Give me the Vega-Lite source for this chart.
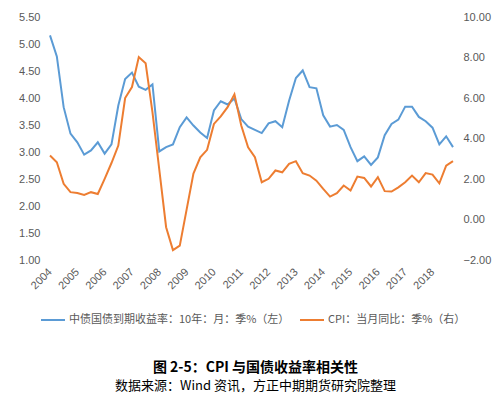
{
  "$schema": "https://vega.github.io/schema/vega-lite/v6.json",
  "autosize": "none",
  "width": 403,
  "height": 243,
  "padding": {"left": 50, "top": 17, "right": 47, "bottom": 137},
  "background": "white",
  "config": {
    "view": {"stroke": null},
    "axis": {"grid": false, "domain": false, "ticks": false, "labelFont": "Liberation Sans", "labelFontSize": 11, "labelColor": "#595959", "title": null},
    "legend": {"labelFont": "Noto Sans CJK SC", "labelFontSize": 11, "labelColor": "#595959", "labelLimit": 0}
  },
  "title": {
    "text": "图 2-5：CPI 与国债收益率相关性",
    "subtitle": "数据来源：Wind 资讯，方正中期期货研究院整理",
    "orient": "bottom",
    "anchor": "middle",
    "frame": "group",
    "offset": 36,
    "dx": 4,
    "font": "Noto Sans CJK SC",
    "fontSize": 14,
    "fontWeight": "bold",
    "color": "#000000",
    "subtitleFont": "Noto Sans CJK SC",
    "subtitleFontSize": 13,
    "subtitleColor": "#000000",
    "subtitlePadding": 5
  },
  "data": {"values": [
    {"t": 2004.00, "bond": 5.16, "cpi": 3.16},
    {"t": 2004.25, "bond": 4.77, "cpi": 2.83},
    {"t": 2004.50, "bond": 3.83, "cpi": 1.76},
    {"t": 2004.75, "bond": 3.34, "cpi": 1.35},
    {"t": 2005.00, "bond": 3.18, "cpi": 1.31},
    {"t": 2005.25, "bond": 2.95, "cpi": 1.21},
    {"t": 2005.50, "bond": 3.03, "cpi": 1.35},
    {"t": 2005.75, "bond": 3.18, "cpi": 1.26},
    {"t": 2006.00, "bond": 2.97, "cpi": 2.01},
    {"t": 2006.25, "bond": 3.14, "cpi": 2.79},
    {"t": 2006.50, "bond": 3.86, "cpi": 3.65},
    {"t": 2006.75, "bond": 4.35, "cpi": 6.0},
    {"t": 2007.00, "bond": 4.47, "cpi": 6.54},
    {"t": 2007.25, "bond": 4.21, "cpi": 8.02},
    {"t": 2007.50, "bond": 4.15, "cpi": 7.72},
    {"t": 2007.75, "bond": 4.25, "cpi": 5.30},
    {"t": 2008.00, "bond": 3.01, "cpi": 2.46},
    {"t": 2008.25, "bond": 3.09, "cpi": -0.38},
    {"t": 2008.50, "bond": 3.14, "cpi": -1.51},
    {"t": 2008.75, "bond": 3.46, "cpi": -1.29},
    {"t": 2009.00, "bond": 3.64, "cpi": 0.49},
    {"t": 2009.25, "bond": 3.49, "cpi": 2.27},
    {"t": 2009.50, "bond": 3.36, "cpi": 3.07},
    {"t": 2009.75, "bond": 3.26, "cpi": 3.44},
    {"t": 2010.00, "bond": 3.77, "cpi": 4.72},
    {"t": 2010.25, "bond": 3.94, "cpi": 5.09},
    {"t": 2010.50, "bond": 3.88, "cpi": 5.55},
    {"t": 2010.75, "bond": 3.99, "cpi": 6.18},
    {"t": 2011.00, "bond": 3.61, "cpi": 4.64},
    {"t": 2011.25, "bond": 3.47, "cpi": 3.57},
    {"t": 2011.50, "bond": 3.41, "cpi": 3.08},
    {"t": 2011.75, "bond": 3.35, "cpi": 1.84},
    {"t": 2012.00, "bond": 3.53, "cpi": 2.01},
    {"t": 2012.25, "bond": 3.57, "cpi": 2.42},
    {"t": 2012.50, "bond": 3.46, "cpi": 2.33},
    {"t": 2012.75, "bond": 3.95, "cpi": 2.75},
    {"t": 2013.00, "bond": 4.37, "cpi": 2.88},
    {"t": 2013.25, "bond": 4.51, "cpi": 2.29},
    {"t": 2013.50, "bond": 4.20, "cpi": 2.17},
    {"t": 2013.75, "bond": 4.18, "cpi": 1.92},
    {"t": 2014.00, "bond": 3.68, "cpi": 1.51},
    {"t": 2014.25, "bond": 3.47, "cpi": 1.13},
    {"t": 2014.50, "bond": 3.50, "cpi": 1.30},
    {"t": 2014.75, "bond": 3.41, "cpi": 1.68},
    {"t": 2015.00, "bond": 3.09, "cpi": 1.43},
    {"t": 2015.25, "bond": 2.83, "cpi": 2.12},
    {"t": 2015.50, "bond": 2.92, "cpi": 2.05},
    {"t": 2015.75, "bond": 2.76, "cpi": 1.63},
    {"t": 2016.00, "bond": 2.90, "cpi": 2.09},
    {"t": 2016.25, "bond": 3.31, "cpi": 1.40},
    {"t": 2016.50, "bond": 3.52, "cpi": 1.38},
    {"t": 2016.75, "bond": 3.60, "cpi": 1.59},
    {"t": 2017.00, "bond": 3.84, "cpi": 1.84},
    {"t": 2017.25, "bond": 3.84, "cpi": 2.17},
    {"t": 2017.50, "bond": 3.65, "cpi": 1.84},
    {"t": 2017.75, "bond": 3.57, "cpi": 2.29},
    {"t": 2018.00, "bond": 3.45, "cpi": 2.22},
    {"t": 2018.25, "bond": 3.14, "cpi": 1.79},
    {"t": 2018.50, "bond": 3.29, "cpi": 2.66},
    {"t": 2018.75, "bond": 3.09, "cpi": 2.88}
  ]},
  "encoding": {
    "x": {
      "field": "t",
      "type": "quantitative",
      "scale": {"domain": [2004, 2018.75], "nice": false, "zero": false},
      "axis": {"values": [2004, 2005, 2006, 2007, 2008, 2009, 2010, 2011, 2012, 2013, 2014, 2015, 2016, 2017, 2018], "format": "d", "labelAngle": -45, "labelAlign": "right", "labelBaseline": "middle", "labelPadding": 10, "labelFlush": false, "labelOverlap": false}
    }
  },
  "layer": [
    {
      "mark": {"type": "line", "strokeWidth": 2},
      "encoding": {
        "y": {
          "field": "bond",
          "type": "quantitative",
          "scale": {"domain": [1, 5.5], "nice": false, "zero": false},
          "axis": {"orient": "left", "values": [1, 1.5, 2, 2.5, 3, 3.5, 4, 4.5, 5, 5.5], "format": ".2f", "labelPadding": 10}
        },
        "color": {
          "datum": "中债国债到期收益率：10年：月：季%（左）",
          "type": "nominal",
          "scale": {"domain": ["中债国债到期收益率：10年：月：季%（左）", "CPI：当月同比：季%（右）"], "range": ["#5B9BD5", "#ED7D31"]},
          "legend": {"orient": "none", "legendX": -10, "legendY": 290, "direction": "horizontal", "title": null, "symbolType": "stroke", "symbolSize": 576, "symbolStrokeWidth": 2, "labelOffset": 3, "columnPadding": 6, "labelLimit": 0}
        }
      }
    },
    {
      "mark": {"type": "line", "strokeWidth": 2},
      "encoding": {
        "y": {
          "field": "cpi",
          "type": "quantitative",
          "scale": {"domain": [-2, 10], "nice": false, "zero": false},
          "axis": {"orient": "right", "values": [-2, 0, 2, 4, 6, 8, 10], "format": ".2f", "labelPadding": 10}
        },
        "color": {"datum": "CPI：当月同比：季%（右）", "type": "nominal"}
      }
    }
  ],
  "resolve": {"scale": {"y": "independent"}}
}
